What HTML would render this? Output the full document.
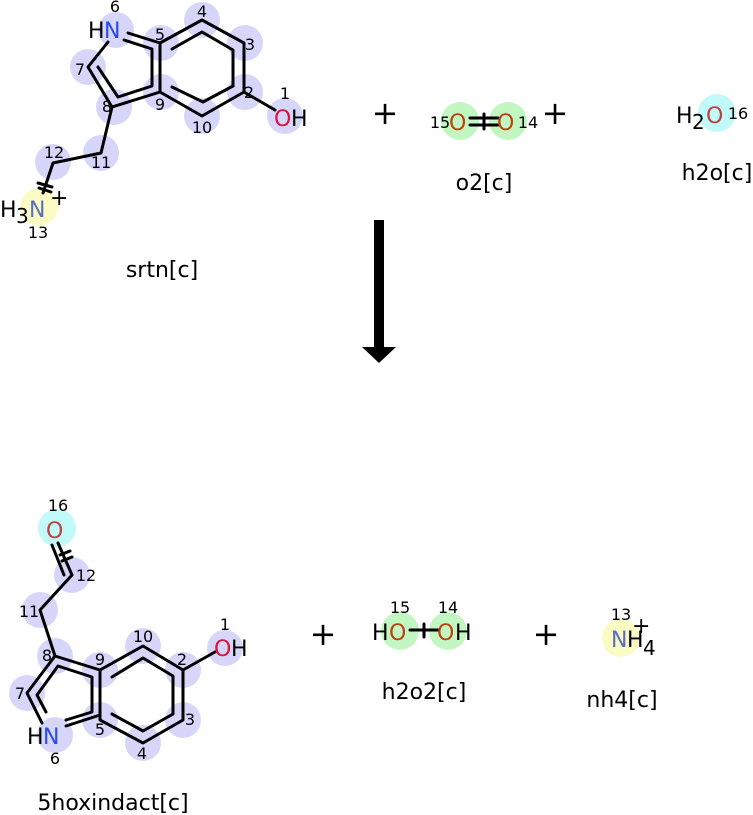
<!DOCTYPE html>
<html><head><meta charset="utf-8"><style>
html,body{margin:0;padding:0;background:#fff;}
svg{display:block;font-family:"DejaVu Sans","Liberation Sans",sans-serif;}
</style></head><body>
<svg width="753" height="815" viewBox="0 0 753 815" xmlns="http://www.w3.org/2000/svg">
<g fill="#d6d6fb">
<circle cx="116" cy="30" r="18"/><circle cx="161" cy="43" r="18"/><circle cx="202" cy="20" r="18"/>
<circle cx="245" cy="43" r="18"/><circle cx="245" cy="92" r="18"/><circle cx="202" cy="116" r="18"/>
<circle cx="161" cy="92" r="18"/><circle cx="114" cy="107" r="18"/><circle cx="88" cy="67" r="18"/>
<circle cx="101" cy="153" r="18"/><circle cx="53" cy="162" r="18"/><circle cx="285" cy="116" r="18"/>
<circle cx="72" cy="575" r="18"/><circle cx="40" cy="610" r="18"/><circle cx="55" cy="656" r="18"/>
<circle cx="27" cy="693" r="18"/><circle cx="55" cy="735" r="18"/><circle cx="100" cy="720" r="18"/>
<circle cx="100" cy="670" r="18"/><circle cx="143" cy="646" r="18"/><circle cx="183" cy="670" r="18"/>
<circle cx="183" cy="720" r="18"/><circle cx="143" cy="743" r="18"/><circle cx="225" cy="648" r="18"/>
</g>
<circle cx="39" cy="207" r="19" fill="#fbfbc4"/>
<circle cx="621" cy="638" r="19" fill="#fbfbc4"/>
<circle cx="717" cy="113" r="19" fill="#c2fafa"/>
<circle cx="57" cy="528" r="19" fill="#c2fafa"/>
<g fill="#c2f7c2">
<circle cx="460" cy="121" r="19"/><circle cx="508" cy="121" r="19"/>
<circle cx="400" cy="631" r="19"/><circle cx="448" cy="631" r="19"/>
</g>
<g stroke="#000" stroke-width="3" fill="none" stroke-linecap="round" stroke-linejoin="round">
<!-- top molecule -->
<polyline points="160,43 202,20 244,43 244,92 202,116 160,92 160,43"/>
<polyline points="172,49 202,32 233,50 233,86"/>
<polyline points="233,86 203,102 172,87"/>
<line x1="128" y1="33" x2="160" y2="43"/>
<polyline points="108,42 88,67 112,107 160,92"/>
<polyline points="98,67 118,97 152,86 152,49 124,40"/>
<line x1="244" y1="92" x2="275" y2="110"/>
<polyline points="112,107 101,153 53,163 43,193"/>
<line x1="38" y1="183" x2="52" y2="187"/>
<line x1="39" y1="188" x2="51" y2="192"/>
<!-- bottom molecule -->
<polyline points="100,670 143,646 183,670 183,720 143,743 100,720 100,670"/>
<polyline points="112,677 143,658 173,676 173,714"/>
<polyline points="173,714 143,731 112,714"/>
<line x1="66" y1="726" x2="100" y2="715"/>
<polyline points="42,723 27,693 55,656 100,670"/>
<polyline points="46,712 37,695 58,666 92,677 92,712 66,720"/>
<polyline points="55,656 40,610 72,575"/>
<line x1="72" y1="575" x2="58" y2="543"/>
<line x1="64" y1="575" x2="52" y2="545"/>
<line x1="60" y1="555" x2="70" y2="551"/>
<line x1="62" y1="561" x2="72" y2="557"/>
<line x1="183" y1="670" x2="215" y2="652"/>
<!-- o2 -->
<line x1="470" y1="118" x2="498" y2="118"/><line x1="470" y1="125" x2="498" y2="125"/>
<line x1="484" y1="114" x2="484" y2="129"/>
<!-- h2o2 -->
<line x1="410" y1="630" x2="438" y2="630"/><line x1="424" y1="624" x2="424" y2="637"/>
</g>
<!-- plus signs -->
<g font-size="32" text-anchor="middle" fill="#000">
<text x="385" y="124">+</text><text x="555" y="124">+</text>
<text x="323" y="645">+</text><text x="546" y="645">+</text>
</g>
<!-- arrow -->
<rect x="374" y="220" width="10" height="130" fill="#000"/>
<polygon points="362,347 396,347 379,363" fill="#000"/>
<!-- atom labels -->
<g font-size="22">
<text x="88" y="38" fill="#000">H</text><text x="104" y="38" fill="#2a48f0">N</text>
<text x="274" y="126" fill="#e0103a">O</text><text x="291" y="126" fill="#000">H</text>
<text x="0" y="217" fill="#000">H</text><text x="16" y="223" fill="#000" font-size="20">3</text><text x="29" y="217" fill="#5a6fc0">N</text>
<text x="50" y="205" fill="#000">+</text>
<text x="46" y="538" fill="#c04040">O</text>
<text x="27" y="744" fill="#000">H</text><text x="43" y="744" fill="#2a48f0">N</text>
<text x="214" y="656" fill="#e0103a">O</text><text x="231" y="656" fill="#000">H</text>
<text x="449" y="130" fill="#c04010">O</text><text x="497" y="130" fill="#c04010">O</text>
<text x="676" y="123" fill="#000">H</text><text x="692" y="129" fill="#000" font-size="20">2</text><text x="706" y="123" fill="#c04040">O</text>
<text x="372" y="640" fill="#000">H</text><text x="389" y="640" fill="#c04010">O</text>
<text x="437" y="640" fill="#c04010">O</text><text x="455" y="640" fill="#000">H</text>
<text x="611" y="647" fill="#5a6fc0">N</text><text x="627" y="647" fill="#000">H</text><text x="643" y="655" fill="#000" font-size="20">4</text>
<text x="632" y="633" fill="#000">+</text>
</g>
<!-- atom numbers -->
<g font-size="16" fill="#000" text-anchor="middle">
<text x="115" y="12">6</text><text x="160" y="40">5</text><text x="202" y="17">4</text>
<text x="250" y="50">3</text><text x="249" y="98">2</text><text x="202" y="133">10</text>
<text x="160" y="110">9</text><text x="107" y="112">8</text><text x="80" y="75">7</text>
<text x="101" y="168">11</text><text x="54" y="158">12</text><text x="38" y="238">13</text>
<text x="285" y="99">1</text>
<text x="58" y="511">16</text><text x="86" y="581">12</text><text x="29" y="617">11</text>
<text x="47" y="661">8</text><text x="20" y="699">7</text><text x="55" y="764">6</text>
<text x="100" y="735">5</text><text x="100" y="665">9</text><text x="143" y="642">10</text>
<text x="182" y="665">2</text><text x="190" y="725">3</text><text x="142" y="759">4</text>
<text x="225" y="630">1</text>
<text x="440" y="128">15</text><text x="528" y="128">14</text>
<text x="738" y="119">16</text>
<text x="400" y="613">15</text><text x="448" y="613">14</text>
<text x="621" y="620">13</text>
</g>
<!-- names -->
<g font-size="22" fill="#000" text-anchor="middle">
<text x="162" y="277">srtn[c]</text>
<text x="484" y="190">o2[c]</text>
<text x="717" y="180">h2o[c]</text>
<text x="113" y="810">5hoxindact[c]</text>
<text x="424" y="699">h2o2[c]</text>
<text x="622" y="707">nh4[c]</text>
</g>
</svg>
</body></html>
